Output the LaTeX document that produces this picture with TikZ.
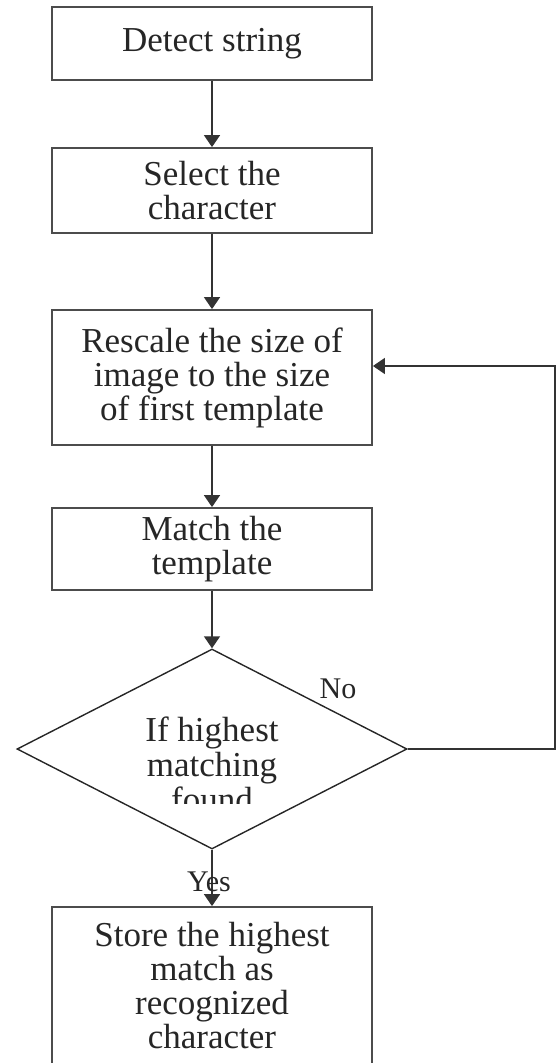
\documentclass[tikz,border=0pt]{standalone}
\usepackage{fontspec}
\setmainfont{Liberation Serif}
\usetikzlibrary{shapes.geometric,arrows.meta}
\begin{document}
\begin{tikzpicture}[x=0.5pt,y=-0.5pt,
  stepbox/.style={draw=black!70, line width=0.9pt, minimum width=160pt, inner sep=0pt,
    align=center, text=black!85, font=\fontsize{17.5}{17}\selectfont},
  decision/.style={draw=black!85, line width=0.7pt, diamond, minimum width=195pt,
    minimum height=100pt, inner sep=0pt},
  flow/.style={draw=black!80, line width=0.8pt, -{Triangle[width=8pt,length=6pt]}},
  lbl/.style={text=black!85, font=\fontsize{15}{15}\selectfont}]
  \clip (0,0) rectangle (557,1063);
  \node[stepbox, minimum height=36.5pt] (detect) at (212,43.5) {Detect string};
  \node[stepbox, minimum height=42.5pt] (select) at (212,190.5) {Select the\\character};
  \node[stepbox, minimum height=67.5pt] (rescale) at (212,377.5) {Rescale the size of\\image to the size\\of first template};
  \node[stepbox, minimum height=41pt] (match) at (212,549) {Match the\\template};
  \node[decision] (check) at (212,749) {};
  \node[stepbox, minimum height=79pt] (store) at (212,986) {Store the highest\\match as\\recognized\\character};
  % text of the decision is cut off at the bottom
  \begin{scope}
    \clip (17,690) rectangle (407,803);
    \node[align=center, text=black!85, font=\fontsize{17.5}{17.5}\selectfont] (checktext) at (212,764) {If highest\\matching\\found};
  \end{scope}
  \draw[flow] (detect) -- (select);
  \draw[flow] (select) -- (rescale);
  \draw[flow] (rescale) -- (match);
  \draw[flow] (match) -- (check);
  \draw[flow] (check) -- (store);
  \coordinate (back) at (555,366);
  \draw[flow] (check.east) -| (back) -- (rescale.east |- back);
  \node[lbl] (no) at (338,689) {No};
  \node[lbl] (yes) at (209,882) {Yes};
\end{tikzpicture}
\end{document}
